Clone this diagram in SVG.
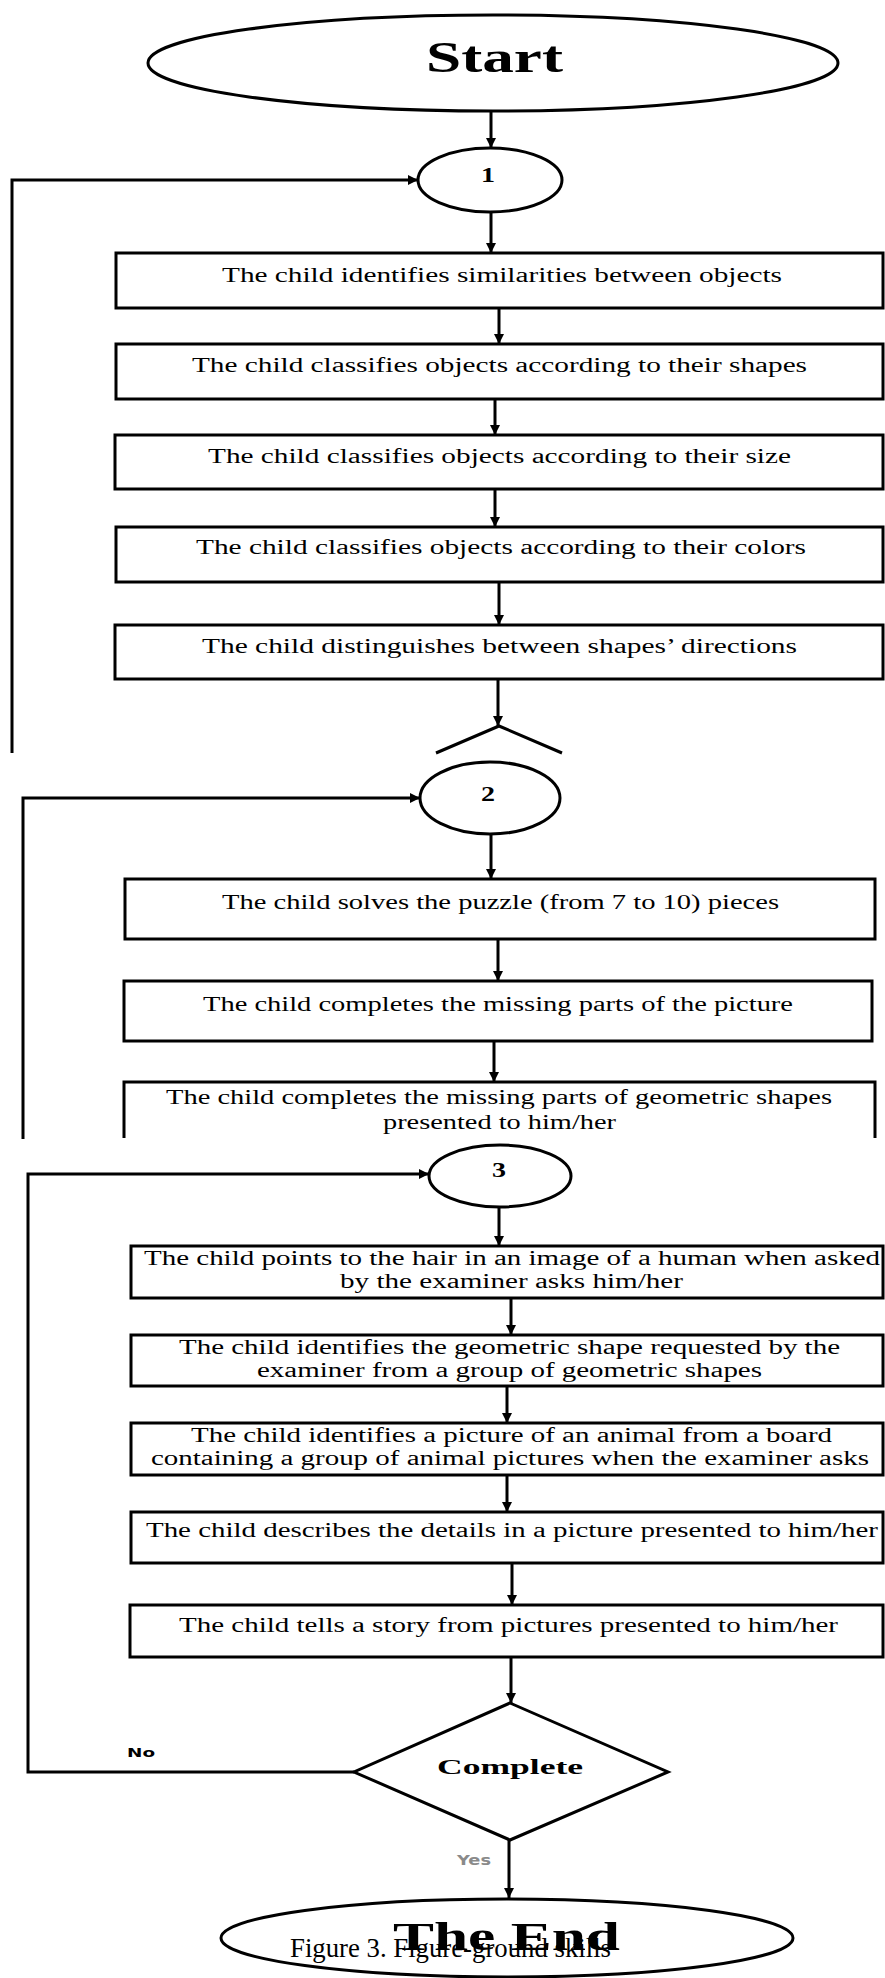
<svg xmlns="http://www.w3.org/2000/svg" width="885" height="1978" viewBox="0 0 885 1978">
<defs>
<marker id="ah" markerUnits="userSpaceOnUse" markerWidth="11" markerHeight="11" refX="10" refY="5" orient="auto">
<path d="M0,0 L10,5 L0,10 z" fill="#000"/>
</marker>
<style>
.shape{fill:#fff;stroke:#000;stroke-width:3}
.open{fill:none;stroke:#000;stroke-width:3}
.con{fill:none;stroke:#000;stroke-width:3}
.arr{fill:none;stroke:#000;stroke-width:3;marker-end:url(#ah)}
.t{font-family:"Liberation Serif","Times New Roman",serif;font-size:20px;fill:#000}
.b{font-family:"Liberation Serif","Times New Roman",serif;font-weight:bold;fill:#000}
.s{font-family:"DejaVu Sans",Verdana,sans-serif;font-weight:bold}
</style>
</defs>
<rect width="885" height="1978" fill="#fff"/>
<g id="connectors">
<line class="arr" x1="491" y1="111" x2="491" y2="148"/>
<line class="arr" x1="491" y1="212" x2="491" y2="253"/>
<line class="arr" x1="499" y1="308" x2="499" y2="344"/>
<line class="arr" x1="495" y1="399" x2="495" y2="435"/>
<line class="arr" x1="495" y1="489" x2="495" y2="527"/>
<line class="arr" x1="499" y1="582" x2="499" y2="625"/>
<line class="arr" x1="498" y1="679" x2="498" y2="726"/>
<path class="arr" d="M12,753 V180 H418"/>
<path class="arr" d="M23,1139 V798 H420"/>
<line class="arr" x1="491" y1="834" x2="491" y2="879"/>
<line class="arr" x1="498" y1="939" x2="498" y2="981"/>
<line class="arr" x1="494" y1="1041" x2="494" y2="1082"/>
<path class="arr" d="M354,1772 H28 V1174 H429"/>
<line class="arr" x1="499" y1="1207" x2="499" y2="1246"/>
<line class="arr" x1="511" y1="1298" x2="511" y2="1335"/>
<line class="arr" x1="507" y1="1386" x2="507" y2="1423"/>
<line class="arr" x1="507" y1="1475" x2="507" y2="1512"/>
<line class="arr" x1="512" y1="1563" x2="512" y2="1605"/>
<line class="arr" x1="511" y1="1657" x2="511" y2="1703"/>
<line class="arr" x1="509" y1="1840" x2="509" y2="1898"/>
<text class="s" x="127" y="1757" font-size="13" textLength="28" lengthAdjust="spacingAndGlyphs" fill="#000">No</text>
<text class="s" x="457" y="1865" font-size="14" textLength="34" lengthAdjust="spacingAndGlyphs" fill="#8a8a8a">Yes</text>
</g>
<g id="start">
<ellipse class="shape" cx="493" cy="63" rx="345" ry="48"/>
<text class="b" x="426" y="72" font-size="44" textLength="137" lengthAdjust="spacingAndGlyphs">Start</text>
</g>
<g id="c1">
<ellipse class="shape" cx="490" cy="180" rx="72" ry="32"/>
<text class="b" x="481" y="182" font-size="20" textLength="14" lengthAdjust="spacingAndGlyphs">1</text>
</g>
<g id="b1">
<rect class="shape" x="116" y="253" width="767" height="55"/>
<text class="t" x="222" y="282" textLength="560" lengthAdjust="spacingAndGlyphs">The child identifies similarities between objects</text>
</g>
<g id="b2">
<rect class="shape" x="116" y="344" width="767" height="55"/>
<text class="t" x="192" y="372" textLength="615" lengthAdjust="spacingAndGlyphs">The child classifies objects according to their shapes</text>
</g>
<g id="b3">
<rect class="shape" x="115" y="435" width="768" height="54"/>
<text class="t" x="208" y="463" textLength="583" lengthAdjust="spacingAndGlyphs">The child classifies objects according to their size</text>
</g>
<g id="b4">
<rect class="shape" x="116" y="527" width="767" height="55"/>
<text class="t" x="196" y="554" textLength="610" lengthAdjust="spacingAndGlyphs">The child classifies objects according to their colors</text>
</g>
<g id="b5">
<rect class="shape" x="115" y="625" width="768" height="54"/>
<text class="t" x="202" y="653" textLength="595" lengthAdjust="spacingAndGlyphs">The child distinguishes between shapes’ directions</text>
</g>
<g id="d1">
<path class="open" d="M436,753 L499,726 L562,753"/>
</g>
<g id="c2">
<ellipse class="shape" cx="490" cy="798" rx="70" ry="36"/>
<text class="b" x="481" y="801" font-size="20" textLength="14" lengthAdjust="spacingAndGlyphs">2</text>
</g>
<g id="b6">
<rect class="shape" x="125" y="879" width="750" height="60"/>
<text class="t" x="222" y="909" textLength="557" lengthAdjust="spacingAndGlyphs">The child solves the puzzle (from 7 to 10) pieces</text>
</g>
<g id="b7">
<rect class="shape" x="124" y="981" width="748" height="60"/>
<text class="t" x="203" y="1011" textLength="590" lengthAdjust="spacingAndGlyphs">The child completes the missing parts of the picture</text>
</g>
<g id="b8">
<path class="open" d="M124,1138 V1082 H875 V1138"/>
<text class="t" x="166" y="1104" textLength="666" lengthAdjust="spacingAndGlyphs">The child completes the missing parts of geometric shapes</text>
<text class="t" x="383" y="1129" textLength="233" lengthAdjust="spacingAndGlyphs">presented to him/her</text>
</g>
<g id="c3">
<ellipse class="shape" cx="500" cy="1176" rx="71" ry="31"/>
<text class="b" x="492" y="1177" font-size="20" textLength="14" lengthAdjust="spacingAndGlyphs">3</text>
</g>
<g id="b9">
<rect class="shape" x="131" y="1246" width="752" height="52"/>
<text class="t" x="144" y="1265" textLength="736" lengthAdjust="spacingAndGlyphs">The child points to the hair in an image of a human when asked</text>
<text class="t" x="340" y="1288" textLength="343" lengthAdjust="spacingAndGlyphs">by the examiner asks him/her</text>
</g>
<g id="b10">
<rect class="shape" x="131" y="1335" width="752" height="51"/>
<text class="t" x="179" y="1354" textLength="661" lengthAdjust="spacingAndGlyphs">The child identifies the geometric shape requested by the</text>
<text class="t" x="257" y="1377" textLength="505" lengthAdjust="spacingAndGlyphs">examiner from a group of geometric shapes</text>
</g>
<g id="b11">
<rect class="shape" x="131" y="1423" width="752" height="52"/>
<text class="t" x="191" y="1442" textLength="641" lengthAdjust="spacingAndGlyphs">The child identifies a picture of an animal from a board</text>
<text class="t" x="151" y="1465" textLength="718" lengthAdjust="spacingAndGlyphs">containing a group of animal pictures when the examiner asks</text>
</g>
<g id="b12">
<rect class="shape" x="131" y="1512" width="752" height="51"/>
<text class="t" x="146" y="1537" textLength="732" lengthAdjust="spacingAndGlyphs">The child describes the details in a picture presented to him/her</text>
</g>
<g id="b13">
<rect class="shape" x="130" y="1605" width="753" height="52"/>
<text class="t" x="179" y="1632" textLength="659" lengthAdjust="spacingAndGlyphs">The child tells a story from pictures presented to him/her</text>
</g>
<g id="complete">
<polygon class="shape" points="510,1703 668,1772 510,1840 354,1772"/>
<text class="b" x="437" y="1774" font-size="22" textLength="146" lengthAdjust="spacingAndGlyphs">Complete</text>
</g>
<g id="end">
<ellipse class="shape" cx="507" cy="1938" rx="286" ry="39"/>
<text class="b" x="393" y="1950" font-size="40" textLength="227" lengthAdjust="spacingAndGlyphs">The End</text>
</g>
<g id="caption">
<text class="t" x="290" y="1957" font-size="27" style="font-size:27px" textLength="321" lengthAdjust="spacingAndGlyphs">Figure 3. Figure-ground skills</text>
</g>
</svg>
